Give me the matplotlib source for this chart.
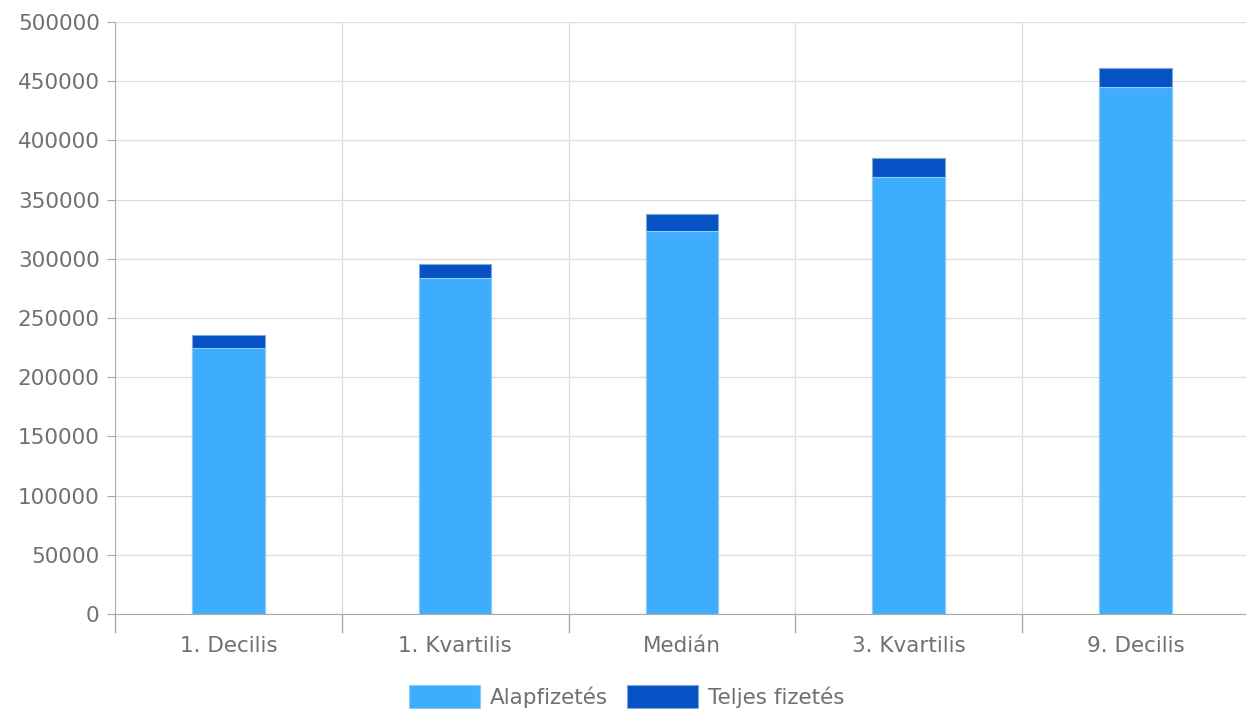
import matplotlib
matplotlib.use("Agg")
import matplotlib.pyplot as plt
import numpy as np

plt.rcParams["font.family"] = ["DejaVu Sans"]

categories = ["1. Decilis", "1. Kvartilis", "Medián", "3. Kvartilis", "9. Decilis"]
base_pay = [225000, 284000, 323500, 369000, 445000]
total_pay = [235500, 295500, 337500, 385500, 461000]

light = "#3fadfe"
dark = "#0651c4"
grid = "#dddddd"
axis_col = "#aaaaaa"
text_col = "#707070"
fs = 15.5

fig = plt.figure(figsize=(12.46, 7.09), dpi=100)
ax = fig.add_axes([0.0923, 0.134, 0.91, 0.835])

x = np.arange(len(categories))
w = 0.32

ax.bar(x, total_pay, width=w, color=dark, edgecolor="#7fa6dd", linewidth=0.8, zorder=3, label="Teljes fizetés")
ax.bar(x, base_pay, width=w, color=light, edgecolor="#8cc9f5", linewidth=0.8, zorder=4, label="Alapfizetés")

ax.set_xlim(-0.5, len(categories) - 0.5)
ax.set_ylim(0, 500000)
ax.set_yticks(np.arange(0, 500001, 50000))
ax.set_xticks(x)
ax.set_xticklabels(categories)

# category boundaries as vertical grid + ticks
bounds = np.arange(-0.5, len(categories), 1.0)
for b in bounds[1:-1]:
    ax.axvline(b, color=grid, linewidth=0.9, zorder=1)
ax.yaxis.grid(True, color=grid, linewidth=0.9, zorder=1)
ax.set_axisbelow(True)

ax.tick_params(axis="x", length=0, pad=16, labelsize=fs, labelcolor=text_col)
ax.tick_params(axis="y", length=6, color=axis_col, pad=5, labelsize=fs, labelcolor=text_col)
for b in bounds[:-1]:
    ax.plot([b, b], [0, -0.03], transform=ax.get_xaxis_transform(), color=axis_col,
            linewidth=1, clip_on=False, zorder=5)

for s in ["top", "right"]:
    ax.spines[s].set_visible(False)
ax.spines["left"].set_color(axis_col)
ax.spines["bottom"].set_color(axis_col)

handles, labels = ax.get_legend_handles_labels()
leg = fig.legend(handles[::-1], labels[::-1], loc="lower center", bbox_to_anchor=(0.503, -0.026),
                 ncol=2, frameon=False, fontsize=fs, handlelength=3.3, handleheight=1.25,
                 columnspacing=0.9, handletextpad=0.45)
for t in leg.get_texts():
    t.set_color(text_col)

fig.savefig("out.png", dpi=100)
